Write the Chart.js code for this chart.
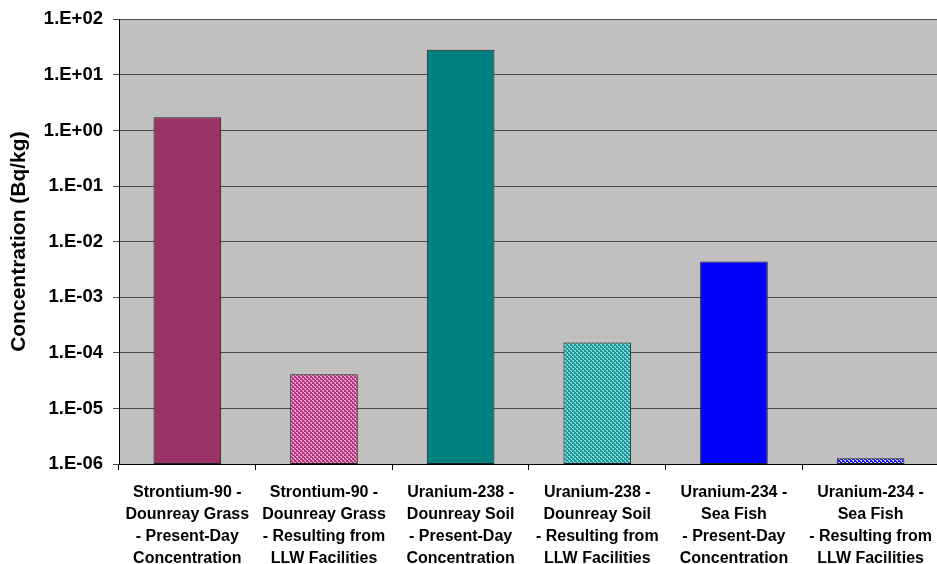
<!DOCTYPE html>
<html>
<head>
<meta charset="utf-8">
<script src="https://cdn.jsdelivr.net/npm/chart.js@4.4.1/dist/chart.umd.min.js"></script>
<style>
html,body{margin:0;padding:0;background:#fff;overflow:hidden;}
#wrap{width:944px;height:564px;position:relative;}
</style>
</head>
<body>
<div id="wrap"><canvas id="c" width="944" height="564"></canvas></div>
<script>
const categories = [
  ["Strontium-90 -", "Dounreay Grass", "- Present-Day", "Concentration"],
  ["Strontium-90 -", "Dounreay Grass", "- Resulting from", "LLW Facilities"],
  ["Uranium-238 -", "Dounreay Soil", "- Present-Day", "Concentration"],
  ["Uranium-238 -", "Dounreay Soil", "- Resulting from", "LLW Facilities"],
  ["Uranium-234 -", "Sea Fish", "- Present-Day", "Concentration"],
  ["Uranium-234 -", "Sea Fish", "- Resulting from", "LLW Facilities"]
];
const concentrations = [1.73, 4.1e-5, 28.4, 1.53e-4, 4.37e-3, 1.27e-6];
const tickValues = [1e-6, 1e-5, 1e-4, 1e-3, 1e-2, 1e-1, 1e0, 1e1, 1e2];
const tickLabels = ["1.E-06","1.E-05","1.E-04","1.E-03","1.E-02","1.E-01","1.E+00","1.E+01","1.E+02"];
const yTitle = "Concentration (Bq/kg)";

function makePattern(dark, light) {
  const t = document.createElement('canvas');
  t.width = 4; t.height = 4;
  const g = t.getContext('2d');
  g.fillStyle = dark; g.fillRect(0, 0, 4, 4);
  g.fillStyle = light;
  g.fillRect(0, 0, 2, 1);
  g.fillRect(2, 2, 2, 1);
  g.fillRect(1, 1, 1, 1);
  g.fillRect(3, 3, 1, 1);
  return document.getElementById('c').getContext('2d').createPattern(t, 'repeat');
}

const fills = [
  '#993366',
  makePattern('#B2357A', '#F0A8D8'),
  '#008080',
  makePattern('#1A9A9A', '#8ADCDC'),
  '#0000FF',
  makePattern('#1010F0', '#D0D0FF')
];

const plotBg = {
  id: 'plotBg',
  beforeDraw(chart) {
    const {ctx, chartArea: a} = chart;
    ctx.save();
    ctx.fillStyle = '#C0C0C0';
    ctx.fillRect(a.left, a.top, a.right - a.left, a.bottom - a.top);
    ctx.restore();
  },
  afterDatasetsDraw(chart) {
    const {ctx, chartArea: a} = chart;
    ctx.save();
    ctx.strokeStyle = '#000';
    ctx.lineWidth = 1;
    ctx.beginPath();
    ctx.moveTo(a.left + 0.5, a.top);
    ctx.lineTo(a.left + 0.5, a.bottom + 0.5);
    ctx.lineTo(a.right, a.bottom + 0.5);
    ctx.stroke();
    ctx.restore();
  }
};

new Chart(document.getElementById('c'), {
  type: 'bar',
  data: {
    labels: categories,
    datasets: [{
      data: concentrations,
      backgroundColor: fills,
      borderColor: '#202020',
      borderWidth: 1,
      borderSkipped: false,
      categoryPercentage: 1,
      barPercentage: 0.495
    }]
  },
  options: {
    responsive: false,
    animation: false,
    devicePixelRatio: 1,
    layout: {padding: {left: 0, top: 18, right: 1, bottom: 0}},
    plugins: {legend: {display: false}, tooltip: {enabled: false}},
    scales: {
      x: {
        offset: true,
        grid: {offset: true, drawOnChartArea: false, drawTicks: true, tickLength: 6, color: '#000'},
        border: {display: false},
        ticks: {
          color: '#000',
          padding: 12,
          maxRotation: 0,
          autoSkip: false,
          font: {family: '"Liberation Sans", Arial, sans-serif', size: 16, weight: 'bold', lineHeight: 1.36}
        },
        afterFit(scale) { scale.height = 100; }
      },
      y: {
        type: 'logarithmic',
        min: 1e-6,
        max: 1e2,
        afterBuildTicks(scale) {
          scale.ticks = tickValues.map(v => ({value: v}));
        },
        afterFit(scale) { scale.width = 119; },
        grid: {color: '#4a4a4a', lineWidth: 1, tickLength: 6, drawTicks: true},
        border: {display: false},
        ticks: {
          color: '#000',
          padding: 10,
          autoSkip: false,
          font: {family: '"Liberation Sans", Arial, sans-serif', size: 18.5, weight: 'bold', lineHeight: 1},
          callback(value) {
            const i = tickValues.findIndex(t => Math.abs(Math.log10(t) - Math.log10(value)) < 1e-6);
            return i >= 0 ? tickLabels[i] : '';
          }
        },
        title: {
          display: true,
          text: yTitle,
          color: '#000',
          padding: {top: 7, bottom: 0},
          font: {family: '"Liberation Sans", Arial, sans-serif', size: 21, weight: 'bold'}
        }
      }
    }
  },
  plugins: [plotBg]
});
</script>
</body>
</html>
